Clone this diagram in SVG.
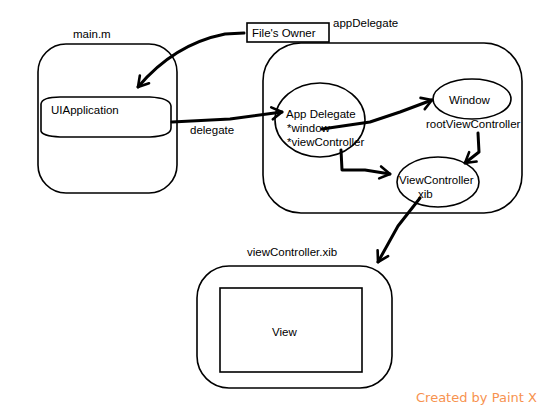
<svg xmlns="http://www.w3.org/2000/svg" width="548" height="410" viewBox="0 0 548 410">
<defs>
<style>
.box{fill:none;stroke:#000;stroke-width:1.6}
.t{font-family:"Liberation Sans",Arial,sans-serif;font-size:11.5px;fill:#000}
.c{fill:none;stroke:#000;stroke-width:3;stroke-linecap:round;stroke-linejoin:round}
</style>
<marker id="ah" viewBox="-12 -8 14 16" markerWidth="14" markerHeight="16" refX="0" refY="0" orient="auto" markerUnits="userSpaceOnUse">
<path d="M-10,-6 L0,0 L-10,6" fill="none" stroke="#000" stroke-width="2.6" stroke-linecap="round" stroke-linejoin="round"/>
</marker>
</defs>
<rect width="548" height="410" fill="#fff"/>

<g id="main">
<rect class="box" x="38" y="44" width="139" height="149" rx="28"/>
<text class="t" x="73" y="38">main.m</text>
</g>
<g id="uiapplication">
<path class="box" d="M41,104 Q42,97 60,97 L150,97 Q170,98 171,106 L171,128 Q171,136 150,137 L60,137 Q42,136 41,131 Z"/>
<text class="t" x="51" y="114">UIApplication</text>
</g>
<g id="filesowner">
<rect class="box" x="247" y="23" width="82" height="19"/>
<text class="t" x="252" y="37">File's Owner</text>
<text class="t" x="333" y="27">appDelegate</text>
</g>
<g id="appcontainer">
<rect class="box" x="263" y="43" width="259" height="170" rx="38"/>
</g>
<g id="appdelegate">
<ellipse class="box" cx="320" cy="120" rx="45" ry="37"/>
<text class="t" x="286" y="118">App Delegate</text>
<text class="t" x="287" y="132">*window</text>
<text class="t" x="287" y="146">*viewController</text>
</g>
<g id="window">
<ellipse class="box" cx="472" cy="99" rx="39" ry="20"/>
<text class="t" x="449" y="104">Window</text>
<text class="t" x="426" y="128">rootViewController</text>
</g>
<g id="viewcontroller">
<ellipse class="box" cx="438" cy="182" rx="41" ry="25"/>
<text class="t" x="399" y="184">ViewController</text>
<text class="t" x="418" y="198">xib</text>
</g>
<g id="xib">
<rect class="box" x="197" y="266" width="195" height="122" rx="32"/>
<text class="t" x="247" y="256">viewController.xib</text>
<rect class="box" x="220" y="288" width="142" height="84"/>
<text class="t" x="272" y="336">View</text>
</g>

<g id="connectors">
<path class="c" marker-end="url(#ah)" d="M244,33 L225,34 C195,40 165,55 138,87"/>
<path class="c" marker-end="url(#ah)" d="M172,122 L230,119 L282,112"/>
<text class="t" x="190" y="134">delegate</text>
<path class="c" marker-end="url(#ah)" d="M322,129 L370,122 L400,112 L432,100"/>
<path class="c" marker-end="url(#ah)" d="M341,150 L342,170 L365,170 L390,174"/>
<path class="c" marker-end="url(#ah)" d="M478,133 L479,152 L465,163"/>
<path class="c" marker-end="url(#ah)" d="M420,198 L398,226 L378,262"/>
</g>

<text x="416" y="402" style="font-family:'DejaVu Sans',Verdana,sans-serif;font-size:13px;fill:#f7924f">Created by Paint X</text>
</svg>
